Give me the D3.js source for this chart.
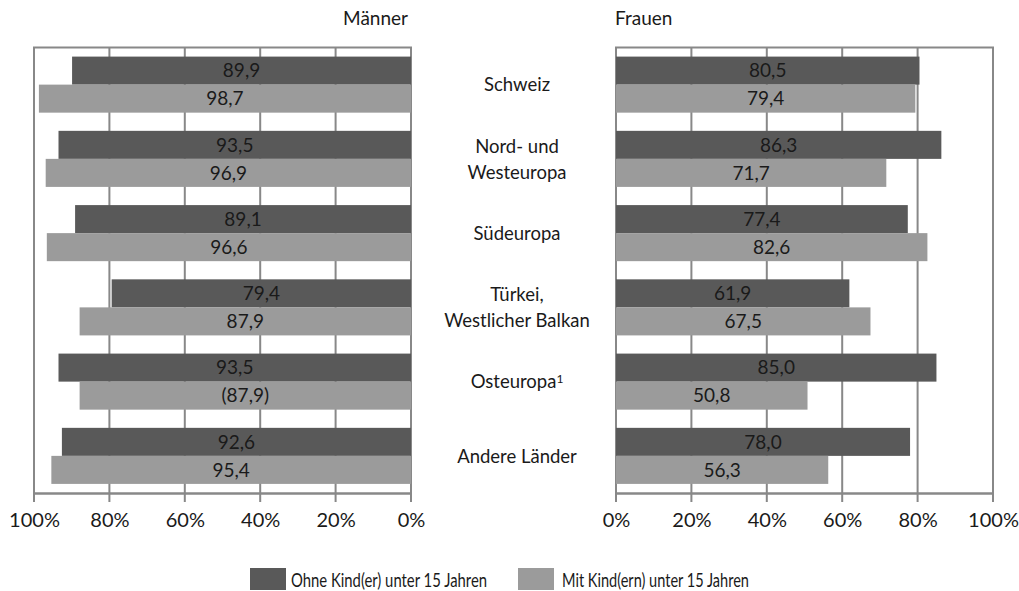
<!DOCTYPE html>
<html>
<head>
<meta charset="utf-8">
<script src="https://cdn.jsdelivr.net/npm/d3@7"></script>
<style>
  body { margin: 0; background: #fff; }
  svg text { font-family: "Lato", "Open Sans", sans-serif; fill: #1a1a1a; }
</style>
</head>
<body>
<svg id="chart" width="1019" height="591"></svg>
<script>
// Regions of origin (line breaks as drawn)
const regions = [
  ["Schweiz"],
  ["Nord- und", "Westeuropa"],
  ["Südeuropa"],
  ["Türkei,", "Westlicher Balkan"],
  ["Osteuropa", "SUP1"],
  ["Andere Länder"]
];
// Employment rates in %, men
const menWithout = [89.9, 93.5, 89.1, 79.4, 93.5, 92.6];
const menWith    = [98.7, 96.9, 96.6, 87.9, 87.9, 95.4];
const menWithLabels = ["98,7", "96,9", "96,6", "87,9", "(87,9)", "95,4"];
// Employment rates in %, women
const womenWithout = [80.5, 86.3, 77.4, 61.9, 85.0, 78.0];
const womenWith    = [79.4, 71.7, 82.6, 67.5, 50.8, 56.3];
const tickValues = [0, 20, 40, 60, 80, 100];
const seriesNames = ["Ohne Kind(er) unter 15 Jahren", "Mit Kind(ern) unter 15 Jahren"];
const colors = ["#595959", "#9b9b9b"];

const svg = d3.select("#chart");
const plotTop = 47.5, plotBottom = 493;
const fmt = v => v.toFixed(1).replace(".", ",");

const y = d3.scaleBand().domain(d3.range(regions.length)).range([plotTop, plotBottom]).paddingInner(0.245).paddingOuter(0.1225);
const ySub = d3.scaleBand().domain([0, 1]).range([0, y.bandwidth()]);

const xMen = d3.scaleLinear().domain([0, 100]).range([411, 34]);
const xWomen = d3.scaleLinear().domain([0, 100]).range([616, 993]);

function panel(x, without, withV, withLabels, title, titleAnchor, titleX) {
  const g = svg.append("g");
  const [r0, r1] = x.range();
  const lo = Math.min(r0, r1), hi = Math.max(r0, r1);
  // gridlines and frame
  g.selectAll("line.grid").data(tickValues).join("line")
    .attr("x1", d => x(d)).attr("x2", d => x(d))
    .attr("y1", plotTop).attr("y2", plotBottom + 9)
    .attr("stroke", "#888").attr("stroke-width", 2);
  g.append("line").attr("x1", lo - 1).attr("x2", hi + 1).attr("y1", plotTop).attr("y2", plotTop)
    .attr("stroke", "#888").attr("stroke-width", 2);
  // bars
  const series = [without, withV];
  series.forEach((vals, si) => {
    g.selectAll("rect.s" + si).data(vals).join("rect")
      .attr("x", d => Math.min(x(0), x(d)))
      .attr("width", d => Math.abs(x(d) - x(0)))
      .attr("y", (d, i) => y(i) + ySub(si))
      .attr("height", ySub.bandwidth())
      .attr("fill", colors[si]);
    g.selectAll("text.s" + si).data(vals).join("text")
      .attr("x", d => (x(0) + x(d)) / 2)
      .attr("y", (d, i) => y(i) + ySub(si) + ySub.bandwidth() / 2)
      .attr("dy", "0.36em")
      .attr("text-anchor", "middle")
      .attr("font-size", 19)
      .text((d, i) => (si === 1 && withLabels) ? withLabels[i] : fmt(d));
  });
  // axis
  const axis = d3.axisBottom(x)
    .tickValues(tickValues).tickFormat(d => d + "%").tickSize(0).tickPadding(0);
  const ax = g.append("g").attr("transform", `translate(0,${plotBottom})`).call(axis);
  ax.select(".domain").attr("stroke", "#888").attr("stroke-width", 2.5);
  ax.selectAll("text").attr("font-size", 20).attr("y", 34).attr("dy", 0).attr("fill", "#1a1a1a")
    .attr("font-family", "'Open Sans', sans-serif");
  // title
  svg.append("text").attr("x", titleX).attr("y", 25).attr("text-anchor", titleAnchor)
    .attr("font-size", 19).text(title);
}

panel(xMen, menWithout, menWith, menWithLabels, "Männer", "end", 408);
panel(xWomen, womenWithout, womenWith, null, "Frauen", "start", 615);

// region labels between the panels
const labelG = svg.append("g");
regions.forEach((lines, i) => {
  const cy = y(i) + y.bandwidth() / 2;
  const sup = lines[lines.length - 1] === "SUP1";
  const txt = sup ? lines.slice(0, -1) : lines;
  const n = txt.length;
  txt.forEach((line, j) => {
    const t = labelG.append("text")
      .attr("x", 517)
      .attr("y", cy + (j - (n - 1) / 2) * 26)
      .attr("dy", "0.36em")
      .attr("text-anchor", "middle")
      .attr("font-size", 18.5);
    t.append("tspan").text(line);
    if (sup) t.append("tspan").attr("dy", "-0.45em").attr("font-size", 12).text("1");
  });
});

// legend
const legendX = [250, 518];
const legendTextX = [291, 562];
const legendTextW = [196, 187];
seriesNames.forEach((name, i) => {
  svg.append("rect").attr("x", legendX[i]).attr("y", 568).attr("width", 36).attr("height", 22).attr("fill", colors[i]);
  svg.append("text").attr("x", legendTextX[i]).attr("y", 580).attr("dy", "0.36em")
    .attr("font-size", 18.5)
    .attr("textLength", legendTextW[i]).attr("lengthAdjust", "spacingAndGlyphs")
    .text(name);
});
</script>
</body>
</html>
